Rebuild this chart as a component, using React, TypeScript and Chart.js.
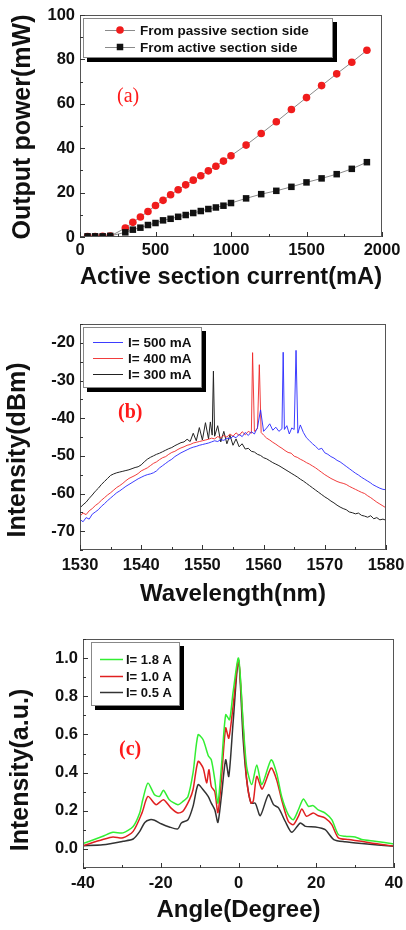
import React, { useEffect, useRef } from "react";
import { Chart, registerables } from "chart.js";
Chart.register(...registerables);

const SANS = "'Liberation Sans', Arial, sans-serif";
const SERIF = "'Liberation Serif', 'Times New Roman', serif";

// ---------- Panel (a) ----------
const currentA = [50, 100, 150, 200, 300, 350, 400, 450, 500, 550, 600, 650, 700, 750, 800, 850, 900, 950, 1000, 1100, 1200, 1300, 1400, 1500, 1600, 1700, 1800, 1900];
const passivePower = [0.2, 0.2, 0.3, 0.4, 4.0, 6.6, 9.0, 11.5, 14.2, 16.5, 19.0, 21.3, 23.5, 25.6, 27.6, 29.8, 31.9, 34.2, 36.6, 41.4, 46.6, 51.9, 57.4, 62.8, 68.2, 73.5, 78.7, 84.1];
const activePower = [0.3, 0.3, 0.3, 0.5, 2.1, 3.3, 4.2, 5.4, 6.3, 7.5, 8.2, 9.1, 9.9, 10.8, 11.7, 12.6, 13.3, 14.1, 15.3, 17.4, 19.3, 20.8, 22.6, 24.6, 26.4, 28.3, 30.7, 33.7];
const aXTicks = [0, 500, 1000, 1500, 2000];
const aYTicks = [0, 20, 40, 60, 80, 100];

// ---------- Panel (b) ----------
const wl500 = [1530, 1530.5, 1531, 1531.5, 1532, 1532.5, 1533, 1533.5, 1534, 1534.5, 1535, 1535.5, 1536, 1536.5, 1537, 1537.5, 1538, 1538.5, 1539, 1539.5, 1540, 1540.5, 1541, 1541.5, 1542, 1542.5, 1543, 1543.5, 1544, 1544.5, 1545, 1545.5, 1546, 1546.5, 1547, 1547.5, 1548, 1548.5, 1549, 1549.5, 1550, 1550.5, 1551, 1551.5, 1552, 1552.5, 1553, 1553.5, 1554, 1554.5, 1555, 1555.5, 1556, 1556.5, 1557, 1557.5, 1558, 1558.5, 1559, 1559.5, 1560, 1560.5, 1561, 1561.5, 1562, 1562.5, 1563, 1563.2, 1563.4, 1563.8, 1564.2, 1564.6, 1565, 1565.3, 1565.6, 1566, 1566.5, 1567, 1567.5, 1568, 1568.5, 1569, 1569.5, 1570, 1570.5, 1571, 1571.5, 1572, 1572.5, 1573, 1573.5, 1574, 1574.5, 1575, 1575.5, 1576, 1576.5, 1577, 1577.5, 1577.8, 1578.5, 1579, 1579.5, 1580];
const int500 = [-66.9, -67.5, -66.4, -66.8, -65.5, -64.9, -64.3, -63.4, -62.7, -61.9, -61.2, -60.5, -59.8, -59.3, -58.7, -58.1, -57.6, -57.1, -56.6, -56.1, -55.7, -55.3, -55.0, -54.8, -54.5, -54.0, -53.2, -52.6, -52.0, -51.4, -50.9, -50.2, -49.7, -49.2, -48.8, -48.4, -48.0, -47.7, -47.5, -47.2, -47.0, -46.8, -46.6, -46.3, -46.0, -46.2, -45.7, -45.9, -45.3, -45.5, -44.8, -45.2, -44.3, -44.9, -43.8, -44.6, -43.6, -44.2, -42.5, -37.8, -43.5, -42.6, -41.5, -43.2, -42.4, -43.5, -42.8, -22.5, -43.0, -42.0, -44.2, -42.6, -43.0, -22.0, -44.0, -41.8, -43.8, -45.2, -46.0, -46.8, -47.5, -48.3, -48.0, -49.2, -49.6, -50.2, -50.6, -51.2, -51.6, -52.2, -52.8, -53.4, -54.0, -54.6, -55.1, -55.7, -56.2, -56.7, -57.2, -57.6, -58.2, -58.6, -58.9, -59.0];

const wl400 = [1530, 1530.5, 1531, 1531.5, 1532, 1532.5, 1533, 1533.5, 1534, 1534.5, 1535, 1535.5, 1536, 1536.5, 1537, 1537.5, 1538, 1538.5, 1539, 1539.5, 1540, 1540.5, 1541, 1541.5, 1542, 1542.5, 1543, 1543.5, 1544, 1544.5, 1545, 1545.5, 1546, 1546.5, 1547, 1547.5, 1548, 1548.5, 1549, 1549.5, 1550, 1550.5, 1551, 1551.5, 1552, 1552.5, 1553, 1553.5, 1554, 1554.5, 1555, 1555.5, 1556, 1556.5, 1557, 1557.5, 1558, 1558.2, 1558.5, 1559, 1559.3, 1559.6, 1560, 1560.5, 1561, 1561.5, 1562, 1562.5, 1563, 1563.5, 1564, 1564.5, 1565, 1565.5, 1566, 1566.5, 1567, 1567.5, 1568, 1568.5, 1569, 1569.5, 1570, 1570.5, 1571, 1571.5, 1572, 1572.5, 1573, 1573.5, 1574, 1574.5, 1575, 1575.5, 1576, 1576.5, 1577, 1577.5, 1578, 1578.5, 1579, 1579.5, 1580];
const int400 = [-66.0, -65.2, -65.6, -64.6, -64.0, -63.2, -62.6, -61.8, -61.1, -60.4, -59.8, -59.1, -58.4, -57.9, -57.3, -56.6, -56.0, -55.6, -55.2, -54.7, -54.0, -53.6, -53.2, -52.6, -52.0, -51.6, -51.0, -50.5, -50.2, -49.6, -49.1, -48.8, -48.3, -47.9, -47.6, -47.2, -47.0, -46.6, -46.4, -46.2, -46.0, -45.8, -45.6, -45.3, -45.5, -44.9, -45.2, -44.6, -45.0, -44.2, -44.8, -43.9, -44.6, -43.6, -44.4, -43.5, -44.0, -22.6, -43.5, -42.8, -25.8, -43.8, -44.5, -45.3, -45.8, -46.4, -46.9, -47.5, -48.0, -48.6, -49.1, -49.3, -50.1, -50.4, -50.9, -51.3, -51.8, -52.2, -52.7, -53.2, -53.8, -54.4, -55.0, -55.5, -56.0, -56.4, -56.8, -57.1, -57.3, -57.6, -58.1, -58.5, -58.9, -59.3, -59.7, -60.0, -60.6, -61.1, -61.7, -62.3, -62.8, -63.3, -63.8];

const wl300 = [1530, 1530.5, 1531, 1531.5, 1532, 1532.5, 1533, 1533.5, 1534, 1534.5, 1535, 1535.5, 1536, 1536.5, 1537, 1537.5, 1538, 1538.5, 1539, 1539.5, 1540, 1540.5, 1541, 1541.5, 1542, 1542.5, 1543, 1543.5, 1544, 1544.5, 1545, 1545.5, 1546, 1546.5, 1547, 1547.5, 1548, 1548.5, 1549, 1549.5, 1550, 1550.5, 1551, 1551.3, 1551.6, 1551.8, 1552, 1552.5, 1553, 1553.5, 1554, 1554.5, 1555, 1555.5, 1556, 1556.5, 1557, 1557.5, 1558, 1558.5, 1559, 1559.5, 1560, 1560.5, 1561, 1561.5, 1562, 1562.5, 1563, 1563.5, 1564, 1564.5, 1565, 1565.5, 1566, 1566.5, 1567, 1567.5, 1568, 1568.5, 1569, 1569.5, 1570, 1570.5, 1571, 1571.5, 1572, 1572.5, 1573, 1573.5, 1574, 1574.5, 1575, 1575.5, 1576, 1576.5, 1577, 1577.5, 1578, 1578.5, 1579, 1579.5, 1580];
const int300 = [-63.8, -63.0, -62.3, -61.3, -60.4, -59.4, -58.6, -57.6, -56.8, -56.0, -55.2, -54.8, -54.5, -54.3, -54.1, -53.9, -53.7, -53.4, -53.1, -52.9, -52.4, -51.6, -50.9, -50.4, -50.0, -49.6, -49.3, -48.9, -48.5, -48.1, -47.8, -47.3, -46.9, -46.5, -46.3, -45.6, -46.2, -44.0, -46.0, -42.5, -45.8, -41.2, -45.5, -41.0, -44.5, -27.5, -44.8, -42.0, -46.3, -43.5, -46.8, -44.5, -47.2, -45.5, -47.6, -46.8, -48.2, -48.0, -48.8, -49.0, -49.6, -49.9, -50.5, -50.8, -51.3, -51.8, -52.2, -52.6, -53.1, -53.6, -54.1, -54.6, -55.1, -55.6, -56.2, -56.7, -57.3, -57.9, -58.5, -59.1, -59.7, -60.3, -60.9, -61.4, -62.0, -62.5, -63.1, -63.6, -64.0, -64.3, -64.9, -65.1, -65.4, -65.2, -65.8, -66.0, -66.3, -65.9, -66.7, -66.4, -67.0, -66.8, -67.1];
const bXTicks = [1530, 1540, 1550, 1560, 1570, 1580];
const bYTicks = [-70, -60, -50, -40, -30, -20];

// ---------- Panel (c) ----------
const ang18 = [-40, -34.9, -32.3, -29.7, -27.1, -25.4, -24.6, -23.3, -21.6, -20.3, -19.3, -17.8, -15.6, -14.3, -13.0, -11.7, -10.4, -9.1, -7.8, -7.0, -6.1, -5.3, -4.4, -3.3, -2.3, -1.4, 0, 1.2, 2.1, 3.4, 4.7, 6.0, 8.4, 9.8, 11.1, 12.8, 14.1, 15.4, 16.7, 18.0, 19.2, 20.5, 22.3, 24.0, 25.7, 27.4, 30.0, 31.7, 35.1, 40];
const val18 = [0.028, 0.066, 0.087, 0.084, 0.118, 0.19, 0.26, 0.345, 0.284, 0.275, 0.307, 0.258, 0.232, 0.249, 0.275, 0.398, 0.598, 0.572, 0.49, 0.467, 0.363, 0.24, 0.432, 0.703, 0.677, 0.82, 1.0, 0.66, 0.43, 0.337, 0.44, 0.337, 0.467, 0.398, 0.275, 0.18, 0.153, 0.205, 0.262, 0.223, 0.227, 0.205, 0.188, 0.153, 0.075, 0.066, 0.063, 0.049, 0.04, 0.026];
const ang10 = [-40, -34.9, -32.3, -29.7, -27.1, -24.8, -23.3, -21.2, -19.3, -17.4, -15.6, -14.3, -12.6, -11.7, -10.4, -9.1, -8.2, -7.6, -7.0, -6.1, -5.3, -4.4, -3.3, -2.5, -1.4, 0, 1.2, 2.1, 3.2, 3.8, 4.7, 6.1, 8.4, 9.8, 11.1, 12.8, 14.1, 15.4, 16.3, 17.5, 19.2, 20.5, 22.3, 24.0, 25.7, 28.3, 31.7, 35.1, 40];
const val10 = [0.017, 0.049, 0.063, 0.058, 0.092, 0.19, 0.275, 0.232, 0.258, 0.215, 0.188, 0.197, 0.258, 0.31, 0.459, 0.424, 0.346, 0.415, 0.328, 0.30, 0.19, 0.363, 0.634, 0.58, 0.747, 0.99, 0.64, 0.363, 0.24, 0.25, 0.38, 0.314, 0.424, 0.363, 0.258, 0.145, 0.127, 0.171, 0.209, 0.171, 0.188, 0.174, 0.162, 0.127, 0.058, 0.049, 0.04, 0.028, 0.015];
const ang05 = [-40, -34.9, -29.7, -27.1, -25.4, -24.1, -22.8, -21.6, -19.9, -17.8, -15.6, -14.7, -13.0, -11.7, -10.4, -9.1, -7.8, -7.0, -6.1, -5.3, -4.4, -3.3, -2.5, -1.4, 0, 1.2, 2.1, 3.2, 4.3, 5.6, 7.7, 9.0, 10.3, 12.0, 13.7, 15.9, 17.2, 19.8, 22.3, 24.5, 27.4, 31.7, 40];
const val05 = [0.017, 0.022, 0.04, 0.052, 0.092, 0.139, 0.153, 0.15, 0.132, 0.115, 0.105, 0.136, 0.153, 0.223, 0.337, 0.31, 0.275, 0.24, 0.205, 0.139, 0.275, 0.467, 0.38, 0.66, 0.99, 0.572, 0.363, 0.24, 0.24, 0.174, 0.284, 0.232, 0.215, 0.145, 0.087, 0.136, 0.118, 0.115, 0.101, 0.049, 0.037, 0.028, 0.014];
const cXTicks = [-40, -20, 0, 20, 40];
const cYTicks = [0, 0.2, 0.4, 0.6, 0.8, 1.0];

const pts = (xs: number[], ys: number[]) => xs.map((x, i) => ({ x, y: ys[i] }));

// ---------- plugins ----------
const frameTicks = {
  id: "frameTicks",
  afterDraw(chart: any, _a: any, o: any) {
    const { ctx, chartArea: a, scales } = chart;
    ctx.save();
    ctx.strokeStyle = "#555";
    ctx.lineWidth = 1;
    ctx.strokeRect(a.left + 0.5, a.top + 0.5, a.right - a.left - 1, a.bottom - a.top - 1);
    ctx.strokeStyle = "#333";
    const axis = (scale: any, step: number, horiz: boolean) => {
      const majors = scale.ticks.map((t: any) => t.value);
      const n = Math.round((scale.max - scale.min) / step);
      for (let i = 0; i <= n; i++) {
        const v = scale.min + i * step;
        const isMajor = majors.some((m: number) => Math.abs(m - v) < step * 1e-3);
        const len = isMajor ? 5 : 3;
        const p = Math.round(scale.getPixelForValue(v)) + 0.5;
        ctx.beginPath();
        if (horiz) { ctx.moveTo(p, a.bottom); ctx.lineTo(p, a.bottom - len); }
        else { ctx.moveTo(a.left, p); ctx.lineTo(a.left + len, p); }
        ctx.stroke();
      }
    };
    axis(scales.x, o.xMinor, true);
    axis(scales.y, o.yMinor, false);
    ctx.restore();
  },
};

const boxLegend = {
  id: "boxLegend",
  afterDraw(chart: any, _a: any, o: any) {
    const { ctx } = chart;
    ctx.save();
    ctx.fillStyle = "#000";
    ctx.fillRect(o.x + o.shadow, o.y + o.shadow, o.w, o.h);
    ctx.fillStyle = "#fff";
    ctx.fillRect(o.x, o.y, o.w, o.h);
    ctx.strokeStyle = "#888";
    ctx.lineWidth = 1;
    ctx.strokeRect(o.x + 0.5, o.y + 0.5, o.w - 1, o.h - 1);
    ctx.font = `bold ${o.fontSize}px ${SANS}`;
    ctx.textBaseline = "middle";
    ctx.textAlign = "left";
    chart.data.datasets.forEach((ds: any, i: number) => {
      const ry = o.rows[i];
      ctx.strokeStyle = ds.borderColor;
      ctx.lineWidth = o.lineWidth;
      ctx.beginPath();
      ctx.moveTo(o.lineX1, ry + 0.5);
      ctx.lineTo(o.lineX2, ry + 0.5);
      ctx.stroke();
      if (ds.pointRadius > 0) {
        const cx = (o.lineX1 + o.lineX2) / 2;
        ctx.fillStyle = ds.pointBackgroundColor;
        if (ds.pointStyle === "rect") {
          const s = ds.pointRadius * Math.SQRT1_2;
          ctx.fillRect(cx - s, ry - s, 2 * s, 2 * s);
        } else {
          ctx.beginPath();
          ctx.arc(cx, ry, ds.pointRadius, 0, Math.PI * 2);
          ctx.fill();
        }
      }
      ctx.fillStyle = "#111";
      ctx.fillText(ds.label, o.textX, ry + 1);
    });
    ctx.restore();
  },
};

const annotations = {
  id: "annotations",
  afterDraw(chart: any, _a: any, o: any) {
    const { ctx } = chart;
    ctx.save();
    ctx.font = o.labelFont;
    ctx.fillStyle = "#ff1a1a";
    ctx.textAlign = "left";
    ctx.textBaseline = "middle";
    ctx.fillText(o.label, o.labelX, o.labelY);
    ctx.translate(o.yTitleX, o.yTitleY);
    ctx.rotate(-Math.PI / 2);
    ctx.font = `bold ${o.yTitleSize}px ${SANS}`;
    ctx.fillStyle = "#111";
    ctx.textAlign = "center";
    ctx.textBaseline = "middle";
    ctx.fillText(o.yTitle, 0, 0);
    ctx.restore();
  },
};

const tickFont = { family: SANS, size: 16.5, weight: "bold" as const };
const plainFmt = (v: number) => String(v);

function makeScales(p: any) {
  return {
    x: {
      type: "linear",
      min: p.xMin,
      max: p.xMax,
      afterBuildTicks: (s: any) => { s.ticks = p.xTicks.map((v: number) => ({ value: v })); },
      afterFit: (s: any) => { s.height = p.xHeight; s.paddingLeft = 0; s.paddingRight = 0; },
      grid: { display: false, drawTicks: false },
      border: { display: false },
      ticks: { font: tickFont, color: "#111", padding: p.xPad, maxRotation: 0, autoSkip: false, callback: plainFmt },
      title: { display: true, text: p.xTitle, color: "#111", font: { family: SANS, size: 24, weight: "bold" }, padding: { top: 0, bottom: p.xTitlePad } },
    },
    y: {
      type: "linear",
      min: p.yMin,
      max: p.yMax,
      afterBuildTicks: (s: any) => { s.ticks = p.yTicks.map((v: number) => ({ value: v })); },
      afterFit: (s: any) => { s.width = p.yWidth; s.paddingTop = 0; s.paddingBottom = 0; },
      grid: { display: false, drawTicks: false },
      border: { display: false },
      ticks: { font: tickFont, color: "#111", padding: 5, autoSkip: false, callback: p.yFmt || plainFmt },
    },
  };
}

function baseOptions(p: any, plugins: any) {
  return {
    responsive: false,
    animation: false,
    devicePixelRatio: 1,
    layout: { padding: { top: p.top, right: p.right, left: 0, bottom: 0 } },
    scales: makeScales(p),
    plugins: { legend: { display: false }, tooltip: { enabled: false }, ...plugins },
  };
}

const configA = () => ({
  type: "line",
  data: {
    datasets: [
      { label: "From passive section side", data: pts(currentA, passivePower), borderColor: "#8a8a8a", borderWidth: 1, pointStyle: "circle", pointRadius: 3.8, pointBackgroundColor: "#f01c1c", pointBorderWidth: 0, order: 1 },
      { label: "From active section side", data: pts(currentA, activePower), borderColor: "#8a8a8a", borderWidth: 1, pointStyle: "rect", pointRadius: 4.6, pointBackgroundColor: "#111", pointBorderWidth: 0, order: 0 },
    ],
  },
  options: baseOptions(
    { xMin: 0, xMax: 2000, xTicks: aXTicks, yMin: 0, yMax: 100, yTicks: aYTicks, xHeight: 63, yWidth: 80, top: 15, right: 24, xPad: 4, xTitle: "Active section current(mA)", xTitlePad: 8 },
    {
      frameTicks: { xMinor: 250, yMinor: 10 },
      boxLegend: { x: 83, y: 18, w: 250, h: 40, shadow: 4, rows: [30, 47], lineX1: 105, lineX2: 135, textX: 140, fontSize: 13.5, lineWidth: 1 },
      annotations: { label: "(a)", labelX: 117, labelY: 97, labelFont: `20px ${SERIF}`, yTitle: "Output power(mW)", yTitleX: 23, yTitleY: 127, yTitleSize: 25 },
    }
  ),
  plugins: [frameTicks, boxLegend, annotations],
});

const configB = () => ({
  type: "line",
  data: {
    datasets: [
      { label: "I= 500 mA", data: pts(wl500, int500), borderColor: "rgba(40,40,255,0.9)", borderWidth: 1, pointRadius: 0 },
      { label: "I= 400 mA", data: pts(wl400, int400), borderColor: "rgba(240,40,40,0.9)", borderWidth: 1, pointRadius: 0 },
      { label: "I= 300 mA", data: pts(wl300, int300), borderColor: "#222", borderWidth: 1, pointRadius: 0 },
    ],
  },
  options: baseOptions(
    { xMin: 1530, xMax: 1580, xTicks: bXTicks, yMin: -75, yMax: -15, yTicks: bYTicks, xHeight: 60, yWidth: 80, top: 24, right: 20, xPad: 6, xTitle: "Wavelength(nm)", xTitlePad: 1 },
    {
      frameTicks: { xMinor: 5, yMinor: 5 },
      boxLegend: { x: 83, y: 27, w: 119, h: 61, shadow: 4, rows: [42, 58, 74], lineX1: 93, lineX2: 123, textX: 128, fontSize: 13.5, lineWidth: 1 },
      annotations: { label: "(b)", labelX: 118, labelY: 113, labelFont: `bold 20px ${SERIF}`, yTitle: "Intensity(dBm)", yTitleX: 18, yTitleY: 150, yTitleSize: 25 },
    }
  ),
  plugins: [frameTicks, boxLegend, annotations],
});

const configC = () => ({
  type: "line",
  data: {
    datasets: [
      { label: "I= 1.8 A", data: pts(ang18, val18), borderColor: "#33ee33", borderWidth: 1.5, pointRadius: 0, tension: 0.25 },
      { label: "I= 1.0 A", data: pts(ang10, val10), borderColor: "#e02020", borderWidth: 1.5, pointRadius: 0, tension: 0.25 },
      { label: "I= 0.5 A", data: pts(ang05, val05), borderColor: "#333", borderWidth: 1.5, pointRadius: 0, tension: 0.25 },
    ],
  },
  options: baseOptions(
    { xMin: -40, xMax: 40, xTicks: cXTicks, yMin: -0.1, yMax: 1.1, yTicks: cYTicks, xHeight: 62, yWidth: 83, top: 29, right: 12, xPad: 6, xTitle: "Angle(Degree)", xTitlePad: 5, yFmt: (v: number) => v.toFixed(1) },
    {
      frameTicks: { xMinor: 10, yMinor: 0.1 },
      boxLegend: { x: 91, y: 32, w: 89, h: 64, shadow: 4, rows: [49, 66, 82], lineX1: 100, lineX2: 123, textX: 126, fontSize: 13, lineWidth: 1.5 },
      annotations: { label: "(c)", labelX: 119, labelY: 140, labelFont: `bold 20px ${SERIF}`, yTitle: "Intensity(a.u.)", yTitleX: 21, yTitleY: 160, yTitleSize: 25 },
    }
  ),
  plugins: [frameTicks, boxLegend, annotations],
});

function Panel({ top, height, make }: { top: number; height: number; make: () => any }) {
  const ref = useRef<HTMLCanvasElement>(null);
  useEffect(() => {
    const chart = new Chart(ref.current as HTMLCanvasElement, make());
    return () => chart.destroy();
  }, [make]);
  return (
    <canvas
      ref={ref}
      width={406}
      height={height}
      style={{ position: "absolute", left: 0, top, width: 406, height, display: "block" }}
    />
  );
}

export default function App() {
  return (
    <div style={{ position: "absolute", left: 0, top: 0, width: 406, height: 930, background: "#fff", overflow: "hidden" }}>
      <Panel top={0} height={300} make={configA} />
      <Panel top={300} height={310} make={configB} />
      <Panel top={610} height={320} make={configC} />
    </div>
  );
}
